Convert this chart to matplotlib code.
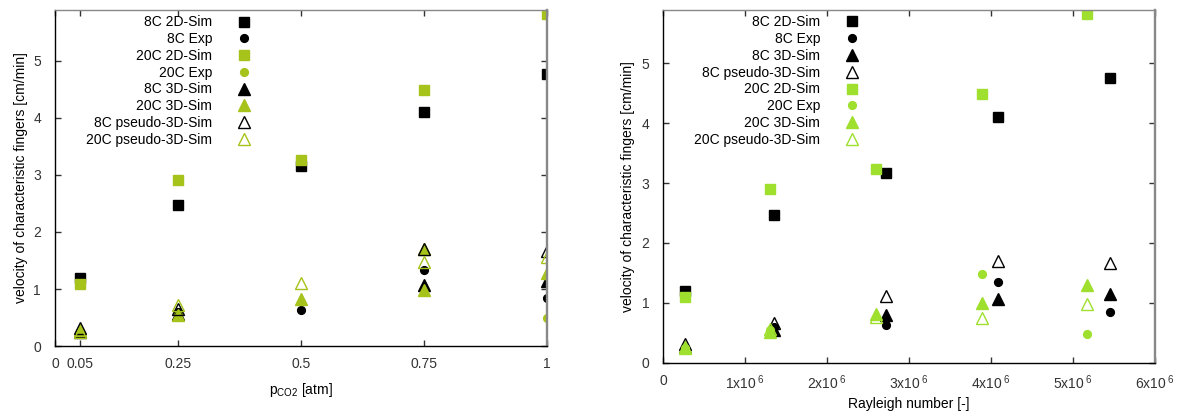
import numpy as np
import matplotlib
matplotlib.use('Agg')
import matplotlib.pyplot as plt
from matplotlib.ticker import FixedLocator, FuncFormatter

plt.rcParams['font.family'] = ['Liberation Sans', 'DejaVu Sans']
plt.rcParams['font.size'] = 10
plt.rcParams['mathtext.fontset'] = 'custom'
plt.rcParams['mathtext.rm'] = 'Liberation Sans'
plt.rcParams['mathtext.it'] = 'Liberation Sans'

# ---- left panel: velocity vs CO2 pressure ----
p_2d = [0.05, 0.25, 0.5, 0.75, 1.0]
p_8c_2d = [1.20, 2.48, 3.15, 4.11, 4.76]
p_8c_exp_x = [0.05, 0.25, 0.5, 0.75, 1.0]
p_8c_exp = [0.25, 0.60, 0.63, 1.33, 0.85]
p_20c_2d = [1.09, 2.91, 3.26, 4.49, 5.82]
p_20c_exp_x = [0.05, 0.25, 1.0]
p_20c_exp = [0.25, 0.55, 0.50]
p_8c_3d_x = [0.05, 0.25, 0.75, 1.0]
p_8c_3d = [0.25, 0.57, 1.07, 1.14]
p_20c_3d_x = [0.05, 0.25, 0.5, 0.75, 0.75, 1.0]
p_20c_3d = [0.28, 0.55, 0.82, 1.71, 0.99, 1.28]
p_8c_ps_x = [0.05, 0.25, 0.75, 1.0]
p_8c_ps = [0.32, 0.65, 1.70, 1.66]
p_20c_ps_x = [0.05, 0.25, 0.5, 0.75, 1.0]
p_20c_ps = [0.25, 0.72, 1.11, 1.48, 1.56]
p_ticks = [0, 0.05, 0.25, 0.5, 0.75, 1]
p_ticklabels = ['0', '0.05', '0.25', '0.5', '0.75', '1']

# ---- right panel: velocity vs Rayleigh number ----
ra_8c = [0.27e6, 1.356e6, 2.72e6, 4.09e6, 5.45e6]
ra_20c = [0.26e6, 1.30e6, 2.60e6, 3.89e6, 5.18e6]
r_8c_2d = [1.19, 2.47, 3.16, 4.10, 4.75]
r_8c_exp = [0.25, 0.60, 0.63, 1.34, 0.85]
r_8c_3d = [0.27, 0.55, 0.80, 1.07, 1.15]
r_8c_ps = [0.32, 0.66, 1.12, 1.70, 1.67]
r_20c_2d = [1.10, 2.90, 3.24, 4.48, 5.83]
r_20c_exp = [0.25, 0.55, np.nan, 1.48, 0.48]
r_20c_3d = [0.27, 0.52, 0.81, 0.99, 1.29]
r_20c_ps = [0.24, 0.57, 0.76, 0.75, 0.98]

GREEN_L = '#a6c31c'
GREEN_R = '#9fdf2e'
BLACK = 'black'

sq = dict(marker='s', ms=7.8, ls='none')
ci = dict(marker='o', ms=5.6, ls='none')
tri = dict(marker='^', ms=8.6, ls='none')


def style_axes(ax):
    for side in ['left', 'bottom']:
        ax.spines[side].set_color('black')
        ax.spines[side].set_linewidth(1.0)
    ax.spines['top'].set_color('#888888')
    ax.spines['top'].set_linewidth(1.0)
    ax.spines['right'].set_color('#888888')
    ax.spines['right'].set_linewidth(1.7)
    ax.tick_params(direction='in', length=4, width=1, top=True, right=True,
                   labelsize=10, colors='#333333', pad=8)
    ax.tick_params(axis='y', pad=10)
    ax.set_ylim(0, 5.89)
    ax.set_yticks([0, 1, 2, 3, 4, 5])
    ax.set_ylabel('velocity of characteristic fingers [cm/min]', fontsize=10)


fig = plt.figure(figsize=(11.8, 4.12), dpi=100)
ax1 = fig.add_axes([0.0466, 0.160, 0.4167, 0.8157])
ax2 = fig.add_axes([0.5621, 0.1197, 0.4164, 0.856])

# left
ax1.plot(p_2d, p_8c_2d, color=BLACK, label='8C 2D-Sim', **sq)
ax1.plot(p_8c_exp_x, p_8c_exp, color=BLACK, label='8C Exp', **ci)
ax1.plot(p_2d, p_20c_2d, color=GREEN_L, label='20C 2D-Sim', **sq)
ax1.plot(p_20c_exp_x, p_20c_exp, color=GREEN_L, label='20C Exp', **ci)
ax1.plot(p_8c_3d_x, p_8c_3d, color=BLACK, label='8C 3D-Sim', **tri)
ax1.plot(p_20c_3d_x, p_20c_3d, color=GREEN_L, label='20C 3D-Sim', **tri)
ax1.plot(p_8c_ps_x, p_8c_ps, color=BLACK, mfc='none', mew=1.0,
         label='8C pseudo-3D-Sim', **tri)
ax1.plot(p_20c_ps_x, p_20c_ps, color=GREEN_L, mfc='none', mew=1.0,
         label='20C pseudo-3D-Sim', **tri)
style_axes(ax1)
ax1.set_xlim(0, 1)
ax1.xaxis.set_major_locator(FixedLocator(p_ticks))
ax1.set_xticklabels(p_ticklabels)
ax1.set_xlabel(r'p$_{\mathrm{CO2}}$ [atm]', fontsize=10)
ax1.xaxis.set_label_coords(0.5, -0.104)
ax1.yaxis.set_label_coords(-0.055, 0.5)

# right
ax2.plot(ra_8c, r_8c_2d, color=BLACK, label='8C 2D-Sim', **sq)
ax2.plot(ra_8c, r_8c_exp, color=BLACK, label='8C Exp', **ci)
ax2.plot(ra_8c, r_8c_3d, color=BLACK, label='8C 3D-Sim', **tri)
ax2.plot(ra_8c, r_8c_ps, color=BLACK, mfc='none', mew=1.0,
         label='8C pseudo-3D-Sim', **tri)
ax2.plot(ra_20c, r_20c_2d, color=GREEN_R, label='20C 2D-Sim', **sq)
ax2.plot(ra_20c, r_20c_exp, color=GREEN_R, label='20C Exp', **ci)
ax2.plot(ra_20c, r_20c_3d, color=GREEN_R, label='20C 3D-Sim', **tri)
ax2.plot(ra_20c, r_20c_ps, color=GREEN_R, mfc='none', mew=1.0,
         label='20C pseudo-3D-Sim', **tri)
style_axes(ax2)
ax2.set_xlim(0, 6e6)
ax2.set_xticks([0, 1e6, 2e6, 3e6, 4e6, 5e6, 6e6])
ax2.xaxis.set_major_formatter(FuncFormatter(
    lambda v, pos: '0' if v == 0 else r'%dx10$^{\ 6}$' % round(v / 1e6)))
ax2.set_xlabel('Rayleigh number [-]', fontsize=10)
ax2.xaxis.set_label_coords(0.5, -0.097)
ax2.yaxis.set_label_coords(-0.057, 0.5)

for ax, anchor in [(ax1, ((258 - 55) / 491.7, 0.984)),
                   (ax2, ((866 - 663.3) / 491.4, 0.985))]:
    ax.legend(loc='upper right', bbox_to_anchor=anchor, frameon=False,
              markerfirst=False, handlelength=2.0, handletextpad=1.3,
              labelspacing=0.2, borderpad=0, borderaxespad=0,
              fontsize=10, numpoints=1)

fig.savefig('out.png', dpi=100)
